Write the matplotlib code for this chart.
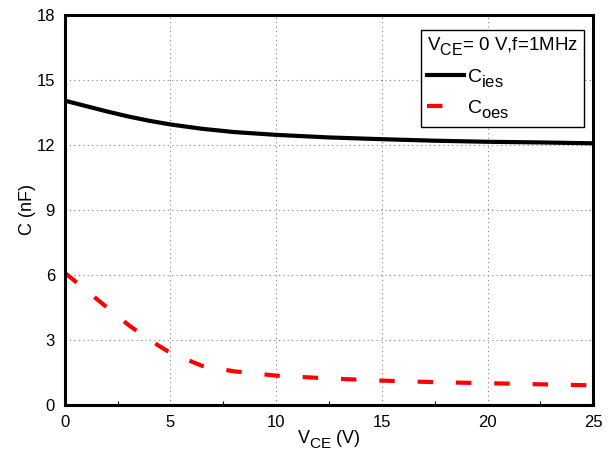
import matplotlib.pyplot as plt
import matplotlib._mathtext as mt
from matplotlib.ticker import MultipleLocator

plt.rcParams['font.family'] = ['Liberation Sans', 'DejaVu Sans']
plt.rcParams['mathtext.fontset'] = 'custom'
plt.rcParams['mathtext.rm'] = 'Liberation Sans'
plt.rcParams['mathtext.it'] = 'Liberation Sans'
# the datasheet uses big, low subscripts
mt.SHRINK_FACTOR = 0.85
mt.FontConstantsBase.subdrop = 0.6
mt.FontConstantsBase.sub1 = 0.55

# capacitance vs V_CE
vce = [0, 1, 2, 3, 4, 5, 6.5, 8, 10, 12.5, 15, 17.5, 20, 22.5, 25]
cies = [14.05, 13.8, 13.55, 13.32, 13.12, 12.95, 12.75, 12.6, 12.47, 12.35, 12.27, 12.2, 12.15, 12.12, 12.08]
coes = [6.1, 5.3, 4.5, 3.7, 3.0, 2.4, 1.8, 1.55, 1.35, 1.22, 1.12, 1.05, 1.0, 0.95, 0.9]

fig = plt.figure(figsize=(6.11, 4.58), dpi=100)
ax = fig.add_axes([0.106, 0.116, 0.865, 0.851])

ax.plot(vce, cies, color='black', lw=3, label='C$_{\\mathrm{ies}}$')
ax.plot(vce, coes, color='red', lw=3, dashes=(3.7, 5.5), label='C$_{\\mathrm{oes}}$')

ax.set_xlim(0, 25)
ax.set_ylim(0, 18)
ax.xaxis.set_major_locator(MultipleLocator(5))
ax.xaxis.set_minor_locator(MultipleLocator(2.5))
ax.yaxis.set_major_locator(MultipleLocator(3))
ax.tick_params(which='both', direction='in', labelsize=12, pad=7)
ax.tick_params(which='major', length=0)
ax.tick_params(which='minor', length=3, width=0.8, top=False)
ax.grid(True, which='major', color='gray', ls=(0, (1, 3)), lw=0.8)
for s in ax.spines.values():
    s.set_linewidth(2.2)

ax.set_xlabel('V$_{\\mathrm{CE}}$ (V)', fontsize=13, labelpad=-1)
ax.set_ylabel('C (nF)', fontsize=13, labelpad=0)

leg = ax.legend(title='V$_{\\mathrm{CE}}$= 0 V,f=1MHz', loc='upper right',
                bbox_to_anchor=(0.982, 0.962), fontsize=14, title_fontsize=13.5,
                fancybox=False, framealpha=1, edgecolor='black', alignment='left',
                borderpad=0.3, handlelength=1.9, handletextpad=0.15,
                labelspacing=0.45, borderaxespad=0)
leg.get_frame().set_linewidth(1)

fig.savefig('out.png', dpi=100)
